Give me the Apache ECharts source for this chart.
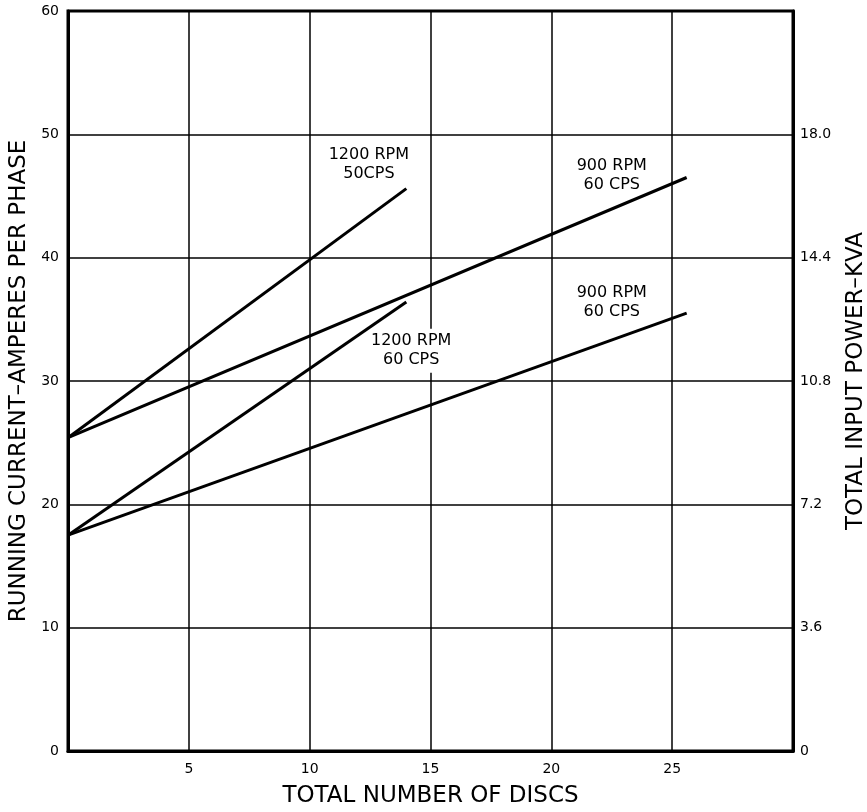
<!DOCTYPE html>
<html>
<head>
<meta charset="utf-8">
<script src="https://cdn.jsdelivr.net/npm/echarts@6/dist/echarts.min.js"></script>
<style>
  html, body { margin: 0; padding: 0; background: #fff; }
  #main { width: 867px; height: 812px; }
</style>
</head>
<body>
<div id="main"></div>
<script>
// curves: number of discs vs running current (A per phase)
var discs1200_50 = [0, 14];
var amps1200_50 = [25.4, 45.6];
var discs900_60up = [0, 25.6];
var amps900_60up = [25.4, 46.5];
var discs1200_60 = [0, 14];
var amps1200_60 = [17.5, 36.4];
var discs900_60lo = [0, 25.6];
var amps900_60lo = [17.5, 35.5];

var curveNames = ['1200 RPM\n50CPS', '900 RPM\n60 CPS', '1200 RPM\n60 CPS', '900 RPM\n60 CPS'];

var font = '"DejaVu Sans", sans-serif';

function pairs(xs, ys) {
    var out = [];
    for (var i = 0; i < xs.length; i++) {
        out.push([xs[i], ys[i]]);
    }
    return out;
}

function curve(name, xs, ys, labelAt, boxed) {
    return {
        name: name,
        type: 'line',
        symbol: 'none',
        data: pairs(xs, ys),
        lineStyle: { color: '#000', width: 3 },
        markPoint: {
            symbol: 'circle',
            symbolSize: 0,
            silent: true,
            label: {
                show: true,
                position: 'inside',
                formatter: name,
                color: '#000',
                fontFamily: font,
                fontSize: 16,
                lineHeight: 19,
                align: 'center',
                backgroundColor: boxed ? '#fff' : 'transparent',
                padding: boxed ? [3, 0] : 0
            },
            data: [{ coord: labelAt }]
        }
    };
}

var chart = echarts.init(document.getElementById('main'));
chart.setOption({
    animation: false,
    backgroundColor: '#fff',
    grid: {
        left: 68, right: 74, top: 11, bottom: 61,
        outerBoundsMode: 'none',
        containLabel: false,
        show: true, borderColor: '#000', borderWidth: 3
    },
    xAxis: {
        type: 'value',
        min: 0, max: 30, interval: 5,
        name: 'TOTAL NUMBER OF DISCS',
        nameLocation: 'middle',
        nameGap: 34,
        nameTextStyle: { color: '#000', fontFamily: font, fontSize: 23 },
        axisLine: { show: true, lineStyle: { color: '#000', width: 3 } },
        axisTick: { show: false },
        axisLabel: {
            color: '#000', fontFamily: font, fontSize: 14, margin: 11,
            formatter: function (v) { return (v === 0 || v === 30) ? '' : String(v); }
        },
        splitLine: { show: true, lineStyle: { color: '#000', width: 1.5 } }
    },
    yAxis: [{
        type: 'value',
        min: 0, max: 60, interval: 10,
        name: 'RUNNING CURRENT\u2013AMPERES PER PHASE',
        nameLocation: 'middle',
        nameGap: 36,
        nameTextStyle: { color: '#000', fontFamily: font, fontSize: 23 },
        axisLine: { show: true, lineStyle: { color: '#000', width: 3 } },
        axisTick: { show: false },
        axisLabel: { color: '#000', fontFamily: font, fontSize: 14, margin: 9 },
        splitLine: { show: true, lineStyle: { color: '#000', width: 1.5 } }
    }, {
        type: 'value',
        position: 'right',
        min: 0, max: 21.6, interval: 3.6,
        name: 'TOTAL INPUT POWER\u2013KVA',
        nameLocation: 'middle',
        nameGap: 52,
        nameRotate: 90,
        nameTextStyle: { color: '#000', fontFamily: font, fontSize: 23 },
        axisLine: { show: true, lineStyle: { color: '#000', width: 3 } },
        axisTick: { show: false },
        axisLabel: {
            color: '#000', fontFamily: font, fontSize: 14, margin: 7,
            formatter: function (v) {
                if (v === 0) return '0';
                if (v > 21) return '';
                return v.toFixed(1);
            }
        },
        splitLine: { show: false }
    }],
    series: [
        curve(curveNames[0], discs1200_50, amps1200_50, [12.45, 47.6], false),
        curve(curveNames[1], discs900_60up, amps900_60up, [22.5, 46.7], false),
        curve(curveNames[2], discs1200_60, amps1200_60, [14.2, 32.45], true),
        curve(curveNames[3], discs900_60lo, amps900_60lo, [22.5, 36.4], false)
    ]
});
</script>
</body>
</html>
